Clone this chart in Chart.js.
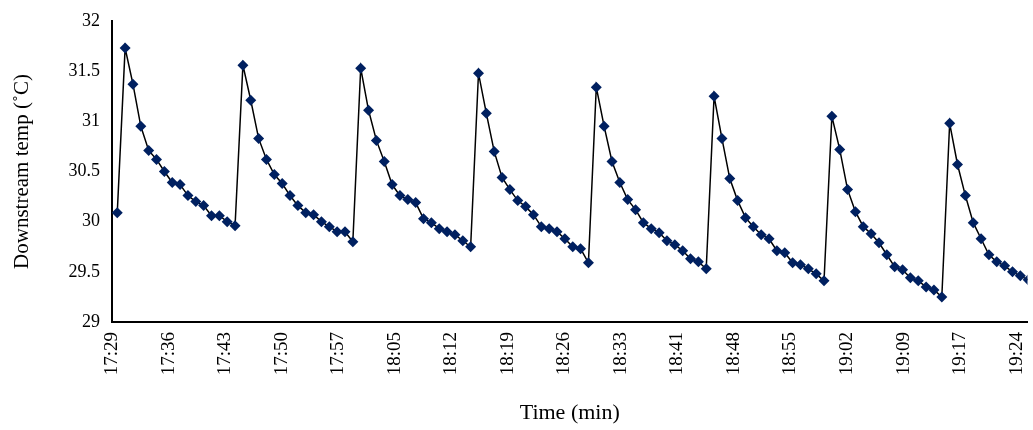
<!DOCTYPE html>
<html>
<head>
<meta charset="utf-8">
<script src="https://cdn.jsdelivr.net/npm/chart.js@4"></script>
<style>
  html, body { margin: 0; padding: 0; background: #fff; }
  #wrap { width: 1033px; height: 430px; }
</style>
</head>
<body>
<div id="wrap"><canvas id="c"></canvas></div>
<script>
/* ── DATA ── */
const tickLabels = ['17:29', '17:36', '17:43', '17:50', '17:57', '18:05', '18:12', '18:19', '18:26',
  '18:33', '18:41', '18:48', '18:55', '19:02', '19:09', '19:17', '19:24'];
const tickStep = 7.2;      // minutes between tick labels
const firstSample = 0.67;  // minutes after 17:29 of the first reading
const sampleStep = 1.0;    // minutes between readings

const temps = [
  30.09,
  31.73, 31.37, 30.95, 30.71, 30.62, 30.50, 30.39, 30.37, 30.26, 30.20, 30.16, 30.06, 30.06, 30.00, 29.96,
  31.56, 31.21, 30.83, 30.62, 30.47, 30.38, 30.26, 30.16, 30.09, 30.07, 30.00, 29.95, 29.90, 29.90, 29.80,
  31.53, 31.11, 30.81, 30.60, 30.37, 30.26, 30.22, 30.19, 30.03, 29.99, 29.93, 29.90, 29.87, 29.81, 29.75,
  31.48, 31.08, 30.70, 30.44, 30.32, 30.21, 30.15, 30.07, 29.95, 29.93, 29.90, 29.83, 29.75, 29.73, 29.59,
  31.34, 30.95, 30.60, 30.39, 30.22, 30.12, 29.99, 29.93, 29.89, 29.81, 29.77, 29.71, 29.63, 29.60, 29.53,
  31.25, 30.83, 30.43, 30.21, 30.04, 29.95, 29.87, 29.83, 29.71, 29.69, 29.59, 29.57, 29.53, 29.48, 29.41,
  31.05, 30.72, 30.32, 30.10, 29.95, 29.88, 29.79, 29.67, 29.55, 29.52, 29.44, 29.41, 29.35, 29.32, 29.25,
  30.98, 30.57, 30.26, 29.99, 29.83, 29.67, 29.60, 29.56, 29.50, 29.46, 29.42
];

const points = temps.map((t, i) => ({ x: firstSample + i * sampleStep, y: t }));
const FONT = 'Liberation Serif';

new Chart(document.getElementById('c'), {
  type: 'line',
  data: {
    datasets: [{
      data: points,
      borderColor: '#000',
      borderWidth: 1.5,
      tension: 0,
      pointStyle: 'rectRot',
      pointRadius: 5.5,
      pointBackgroundColor: '#002060',
      pointBorderColor: '#002060',
      pointBorderWidth: 0,
    }],
  },
  options: {
    responsive: true, maintainAspectRatio: false, animation: false,
    layout: { padding: { top: 21, right: 0, bottom: 0, left: 6 } },
    plugins: { legend: { display: false }, tooltip: { enabled: false } },
    scales: {
      x: {
        type: 'linear', min: 0, max: (1033 - 112) / 7.9,
        afterBuildTicks: ax => { ax.ticks = tickLabels.map((_, k) => ({ value: k * tickStep })); },
        ticks: {
          autoSkip: false, minRotation: 90, maxRotation: 90, padding: 4,
          font: { family: FONT, size: 19 }, color: '#000',
          callback: (v, i) => tickLabels[i],
        },
        grid: { display: false, drawTicks: true, tickLength: 6, tickColor: '#000' },
        border: { color: '#000', width: 2 },
        title: { display: true, text: 'Time (min)', font: { family: FONT, size: 22 }, color: '#000', padding: { top: 8 } },
        afterFit: ax => { ax.height = 108; ax.paddingRight = 0; ax.paddingLeft = 0; },
      },
      y: {
        min: 29, max: 32,
        ticks: { stepSize: 0.5, font: { family: FONT, size: 18 }, color: '#000', padding: 6,
          callback: v => String(v) },
        grid: { display: false, drawTicks: true, tickLength: 6, tickColor: '#000' },
        border: { color: '#000', width: 2 },
        title: { display: true, text: 'Downstream temp (˚C)', font: { family: FONT, size: 21 }, color: '#000', padding: { bottom: 4 } },
        afterFit: ax => { ax.width = 106; ax.paddingTop = 0; ax.paddingBottom = 0; },
      },
    },
  },
});
</script>
</body>
</html>
